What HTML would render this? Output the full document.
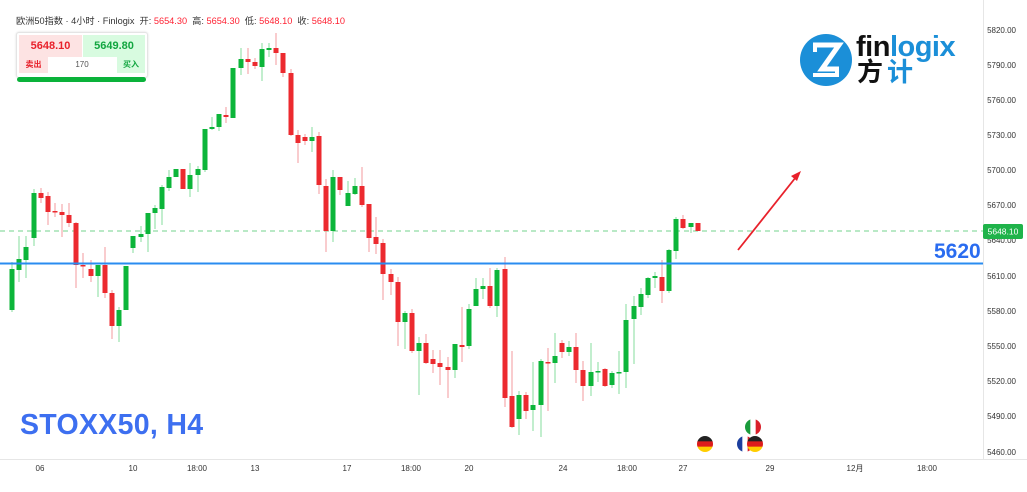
<!DOCTYPE html>
<html><head><meta charset="utf-8"><style>
body{margin:0;width:1027px;height:492px;overflow:hidden;background:#fff;font-family:"Liberation Sans","Noto Sans CJK SC",sans-serif;}
svg{position:absolute;left:0;top:0}
.box{position:absolute;}
</style></head><body>
<svg id="s" width="1027" height="492" xmlns="http://www.w3.org/2000/svg" font-family="Liberation Sans, Noto Sans CJK SC, sans-serif"></svg>
<div class="box" style="left:16px;top:13px;font-size:9.2px;color:#333;white-space:nowrap">欧洲50指数 · 4小时 · Finlogix &nbsp;开: <span style="color:#f23">5654.30</span> &nbsp;高: <span style="color:#f23">5654.30</span> &nbsp;低: <span style="color:#f23">5648.10</span> &nbsp;收: <span style="color:#f23">5648.10</span></div>
<div class="box" style="left:16px;top:32px;width:130px;height:44px;border:1px solid #e4e4e4;border-radius:3px;background:#fff;box-shadow:0 0 2px #ddd">
 <div style="position:absolute;left:2px;top:2px;width:63px;height:22px;background:#fde3e3;color:#e8212b;font-size:11px;font-weight:bold;text-align:center;line-height:22px">5648.10</div>
 <div style="position:absolute;left:66px;top:2px;width:62px;height:22px;background:#d8fbe0;color:#12a640;font-size:11px;font-weight:bold;text-align:center;line-height:22px">5649.80</div>
 <div style="position:absolute;left:2px;top:24px;width:29px;height:16px;background:#fde3e3;color:#e8212b;font-size:8px;font-weight:bold;text-align:center;line-height:16px">卖出</div>
 <div style="position:absolute;left:31px;top:24px;width:68px;height:16px;color:#555;font-size:8px;text-align:center;line-height:16px">170</div>
 <div style="position:absolute;left:100px;top:24px;width:28px;height:16px;background:#d8fbe0;color:#12a640;font-size:8px;font-weight:bold;text-align:center;line-height:16px">买入</div>
</div>
<div class="box" style="left:17px;top:77px;width:129px;height:5px;background:#0ab23a;border-radius:3px"></div>
<div class="box" style="left:20px;top:409px;font-size:28.5px;font-weight:bold;color:#3d6ff0;letter-spacing:0.3px">STOXX50, H4</div>
<div class="box" style="left:934px;top:240px;font-size:21px;font-weight:bold;color:#2a6cf0">5620</div>
<div class="box" style="left:856px;top:32px;font-size:29px;font-weight:bold;line-height:30px;letter-spacing:-0.5px"><span style="color:#111">fin</span><span style="color:#1b8fd8">logix</span></div>
<div class="box" style="left:857px;top:58px;font-size:26px;font-weight:bold;line-height:28px;color:#111;letter-spacing:4px">方<span style="color:#1b8fd8">计</span></div>
<script>
const C=[
[12,269,310,262,312,1],[19,259,270,236,282,1],[26,247,260,236,278,1],[34,193,238,189,246,1],[41,193,198,188,203,0],[48,196,212,192,225,0],[55,211,212,203,217,0],[62,212,215,204,237,0],[69,215,223,203,227,0],[76,223,265,222,288,0],[83,265,266,253,278,0],[91,269,276,260,282,0],[98,265,276,265,297,1],[105,265,293,247,298,0],[112,293,326,290,339,0],[119,310,326,307,342,1],[126,266,310,266,310,1],[133,236,248,236,253,1],[141,234,237,226,242,1],[148,213,234,213,252,1],[155,208,213,205,229,1],[162,187,209,185,225,1],[169,177,188,170,191,1],[176,169,177,169,177,1],[183,169,189,169,189,0],[190,175,189,163,197,1],[198,169,175,166,192,1],[205,129,170,129,172,1],[212,127,129,117,130,1],[219,114,127,114,131,1],[226,115,117,107,123,0],[233,68,118,68,118,1],[241,59,68,48,75,1],[248,59,62,48,74,0],[255,62,66,58,69,0],[262,49,67,43,81,1],[269,48,50,43,57,1],[276,48,53,33,65,0],[283,53,73,53,77,0],[291,73,135,69,136,0],[298,135,143,130,163,0],[305,137,141,134,145,0],[312,137,141,127,152,1],[319,136,185,132,194,0],[326,186,231,179,252,0],[333,177,231,170,242,1],[340,177,190,177,195,0],[348,193,206,181,206,1],[355,186,194,178,195,1],[362,186,205,167,207,0],[369,204,238,204,252,0],[376,237,244,217,254,0],[383,243,274,239,300,0],[391,274,282,269,295,0],[398,282,322,277,346,0],[405,313,322,311,349,1],[412,313,351,309,353,0],[419,343,351,337,395,1],[426,343,363,334,364,0],[433,359,364,350,373,0],[440,363,367,350,385,0],[448,367,370,357,398,0],[455,344,370,344,378,1],[462,345,347,307,362,0],[469,309,346,304,349,1],[476,289,306,278,306,1],[483,286,289,278,299,1],[490,286,306,268,308,0],[497,270,306,268,317,1],[505,269,398,257,407,0],[512,396,427,351,428,0],[519,395,419,391,435,1],[526,395,411,392,419,0],[533,405,410,362,431,1],[541,361,405,359,437,1],[548,362,363,348,411,0],[555,356,363,333,383,1],[562,343,352,340,358,0],[569,347,352,341,356,1],[576,347,370,333,383,0],[583,370,386,361,401,0],[591,372,386,343,396,1],[598,371,372,362,382,1],[605,369,386,368,387,0],[612,373,385,371,388,1],[619,372,373,351,394,1],[626,320,372,304,388,1],[634,306,319,296,364,1],[641,294,307,288,315,1],[648,278,295,277,298,1],[655,276,278,272,288,1],[662,277,291,260,303,0],[669,250,291,249,293,1],[676,219,251,217,259,1],[683,219,228,215,229,0],[691,223,227,223,233,1],[698,223,231,223,231,0]];
let h='';
const P=[[5820,30],[5790,65],[5760,100],[5730,135],[5700,170],[5670,205],[5640,240],[5610,276],[5580,311],[5550,346],[5520,381],[5490,416],[5460,452]];
h+='<line x1="983.5" y1="0" x2="983.5" y2="460" stroke="#e6e6e6"/><line x1="0" y1="459.5" x2="1027" y2="459.5" stroke="#e6e6e6"/>';
P.forEach(p=>h+=`<text x="1016" y="${p[1]+3}" font-size="8" fill="#333" text-anchor="end">${p[0]}.00</text>`);
[[40,'06'],[133,'10'],[197,'18:00'],[255,'13'],[347,'17'],[411,'18:00'],[469,'20'],[563,'24'],[627,'18:00'],[683,'27'],[770,'29'],[855,'12月'],[927,'18:00']].forEach(t=>h+=`<text x="${t[0]}" y="471" font-size="8" fill="#333" text-anchor="middle">${t[1]}</text>`);
h+='<line x1="0" y1="231" x2="983" y2="231" stroke="#8fdca3" stroke-width="1.2" stroke-dasharray="5,4"/>';
C.forEach(c=>{const col=c[5]?'#0cb53a':'#ec2a2f',wc=c[5]?'#86dc9c':'#f39a9c';
h+=`<line x1="${c[0]}" y1="${c[3]}" x2="${c[0]}" y2="${c[4]}" stroke="${wc}" stroke-width="1"/>`;
h+=`<rect x="${c[0]-2.5}" y="${c[1]}" width="5" height="${Math.max(1.5,c[2]-c[1])}" fill="${col}"/>`;});
h+='<line x1="0" y1="263.5" x2="983" y2="263.5" stroke="#2a8cf0" stroke-width="2"/>';
h+='<rect x="983" y="224" width="40" height="15" rx="2" fill="#1fb34a"/><text x="1003" y="234.5" font-size="8.5" fill="#fff" text-anchor="middle">5648.10</text>';
h+='<line x1="738" y1="250" x2="796" y2="177" stroke="#e8212b" stroke-width="1.8"/><polygon points="801,171 791,176 797,181" fill="#e8212b"/>';
h+='<circle cx="826" cy="60" r="26" fill="#1b8fd8"/><path d="M813,45 h26 l-17,24 h17" stroke="#fff" stroke-width="5" fill="none"/><path d="M815,52 v-7 M837,68 v7 h-24" stroke="#fff" stroke-width="4" fill="none"/>';
function flag(x,y,cols,vert){let s=`<clipPath id="c${x}${y}"><circle cx="${x}" cy="${y}" r="8"/></clipPath><g clip-path="url(#c${x}${y})">`;
cols.forEach((c,i)=>{s+=vert?`<rect x="${x-8+i*16/3}" y="${y-8}" width="${16/3+0.3}" height="16" fill="${c}"/>`:`<rect x="${x-8}" y="${y-8+i*16/3}" width="16" height="${16/3+0.3}" fill="${c}"/>`});return s+'</g>';}
h+=flag(705,444,['#222','#dd1c1c','#ffce00'],0);
h+=flag(753,427,['#1a9b3b','#fff','#d9202a'],1);
h+=flag(745,444,['#1c3f9e','#fff','#d9202a'],1);
h+=flag(755,444,['#222','#dd1c1c','#ffce00'],0);
document.getElementById('s').innerHTML=h;
</script>
</body></html>
